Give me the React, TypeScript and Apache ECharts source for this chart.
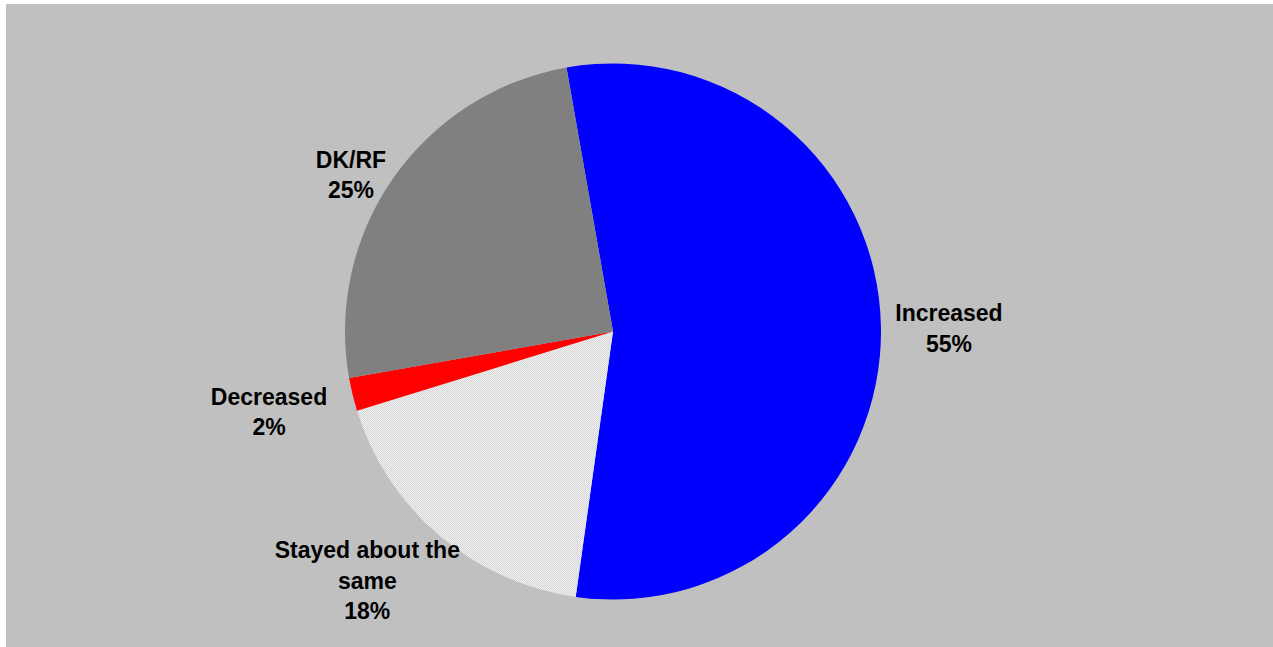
import React, { useEffect, useRef } from 'react';
import * as echarts from 'echarts';

// ---- data ----
const categories: string[] = ['Increased', 'Stayed about the\nsame', 'Decreased', 'DK/RF'];
const values: number[] = [55, 18, 2, 25];

// ---- styles (kept apart from data) ----
const BG = '#C0C0C0';
const SOLID_COLORS: (string | null)[] = ['#0000FF', null, '#FF0000', '#808080'];
// label offsets (dx, dy) relative to the slice's outer edge midpoint
const LABEL_SHIFT: [number, number][] = [
  [68, 1.5],
  [-72, 45],
  [-83.5, 17.5],
  [-42.5, -3],
];

function makePattern(): any {
  const c = document.createElement('canvas');
  c.width = 2;
  c.height = 2;
  const ctx = c.getContext('2d');
  if (!ctx) return '#E4E4E4';
  ctx.fillStyle = '#F0F0F0';
  ctx.fillRect(0, 0, 2, 2);
  ctx.fillStyle = '#D6D6D6';
  ctx.fillRect(0, 0, 1, 1);
  ctx.fillRect(1, 1, 1, 1);
  return { image: c, repeat: 'repeat' };
}

export default function App() {
  const ref = useRef<HTMLDivElement>(null);

  useEffect(() => {
    if (!ref.current) return;
    const chart = echarts.init(ref.current, null, { renderer: 'svg' });
    const pattern = makePattern();
    const data = categories.map((name, i) => ({
      name,
      value: values[i],
      itemStyle: { color: SOLID_COLORS[i] ?? pattern },
    }));
    chart.setOption({
      animation: false,
      backgroundColor: BG,
      series: [
        {
          type: 'pie',
          center: [607, 327.5],
          radius: 268,
          startAngle: 100,
          clockwise: true,
          avoidLabelOverlap: false,
          percentPrecision: 0,
          silent: true,
          data,
          itemStyle: { borderWidth: 0 },
          emphasis: { disabled: true },
          label: {
            show: true,
            position: 'outside',
            formatter: '{b}\n{d}%',
            fontFamily: '"Liberation Sans", Arial, sans-serif',
            fontWeight: 'bold',
            fontSize: 23,
            lineHeight: 30.5,
            color: '#000000',
            distanceToLabelLine: 0,
          },
          labelLine: { show: false, length: 0, length2: 0 },
          labelLayout: (params: any) => {
            const s = LABEL_SHIFT[params.dataIndex] || [0, 0];
            return { dx: s[0], dy: s[1], align: 'center', verticalAlign: 'middle' };
          },
        },
      ],
    });
    return () => chart.dispose();
  }, []);

  return (
    <div
      ref={ref}
      style={{ position: 'absolute', left: 6, top: 4, width: 1267, height: 643 }}
    />
  );
}
